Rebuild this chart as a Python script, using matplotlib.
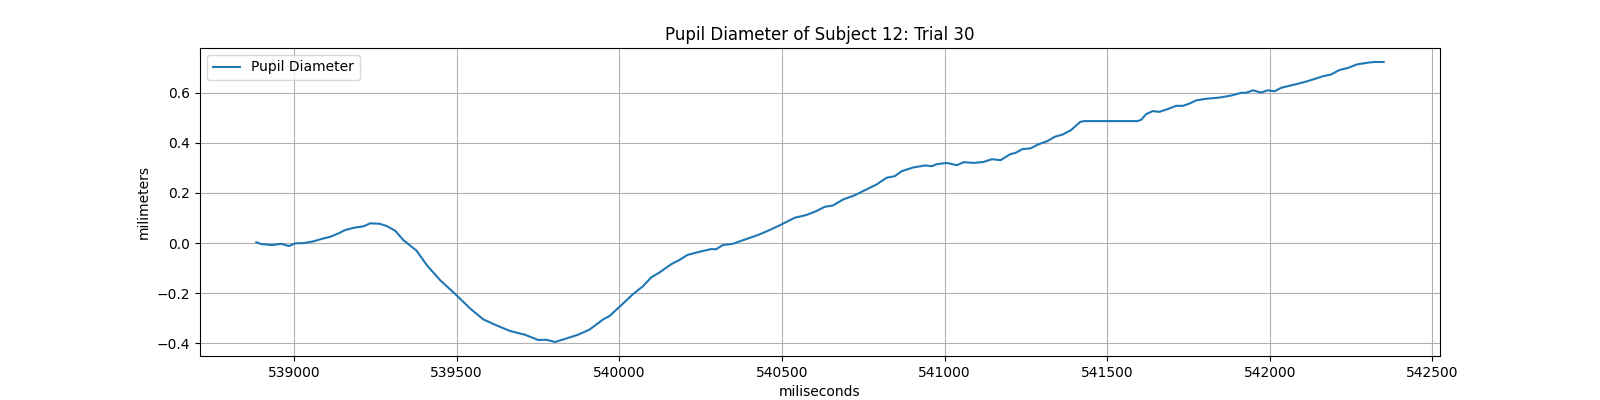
import matplotlib
matplotlib.use('Agg')
import matplotlib.pyplot as plt

# time stamps (ms) and pupil diameter change (mm)
time_ms = [
    538884, 538899, 538933, 538960, 538984, 539004, 539030, 539060, 539086, 539111,
    539137, 539157, 539183, 539214, 539234, 539263, 539285, 539311, 539336, 539377,
    539408, 539449, 539500, 539541, 539582, 539623, 539664, 539710, 539751, 539776,
    539802, 539837, 539873, 539909, 539950, 539970, 540001, 540042, 540073, 540098,
    540124, 540160, 540184, 540210, 540246, 540282, 540297, 540318, 540349, 540390,
    540426, 540457, 540498, 540539, 540575, 540606, 540632, 540657, 540688, 540724,
    540755, 540791, 540822, 540847, 540868, 540904, 540940, 540961, 540976, 541007,
    541038, 541059, 541090, 541120, 541146, 541172, 541202, 541218, 541239, 541264,
    541290, 541316, 541338, 541364, 541389, 541417, 541430, 541594, 541605, 541620,
    541640, 541661, 541686, 541712, 541733, 541753, 541774, 541804, 541845, 541881,
    541912, 541927, 541948, 541973, 541994, 542014, 542035, 542060, 542086, 542112,
    542142, 542163, 542188, 542214, 542239, 542270, 542306, 542321, 542350,
]
diameter_mm = [
    0.003, -0.004, -0.008, -0.003, -0.012, -0.001, 0.000, 0.007, 0.017, 0.025,
    0.039, 0.052, 0.061, 0.067, 0.079, 0.077, 0.068, 0.049, 0.012, -0.031,
    -0.088, -0.148, -0.209, -0.261, -0.305, -0.329, -0.351, -0.366, -0.387, -0.386,
    -0.395, -0.381, -0.366, -0.345, -0.305, -0.291, -0.254, -0.204, -0.172, -0.137,
    -0.117, -0.084, -0.068, -0.047, -0.035, -0.024, -0.025, -0.008, -0.003, 0.016,
    0.032, 0.049, 0.074, 0.101, 0.112, 0.128, 0.145, 0.150, 0.174, 0.191,
    0.211, 0.234, 0.261, 0.267, 0.287, 0.302, 0.310, 0.307, 0.315, 0.320,
    0.311, 0.323, 0.320, 0.324, 0.335, 0.331, 0.355, 0.360, 0.375, 0.378,
    0.395, 0.407, 0.424, 0.434, 0.451, 0.484, 0.487, 0.487, 0.493, 0.515,
    0.527, 0.524, 0.535, 0.548, 0.548, 0.557, 0.570, 0.576, 0.581, 0.589,
    0.600, 0.600, 0.610, 0.601, 0.610, 0.606, 0.620, 0.628, 0.636, 0.645,
    0.657, 0.666, 0.673, 0.691, 0.699, 0.714, 0.721, 0.723, 0.723,
]

subject = 12
trial = 30

fig, ax = plt.subplots(figsize=(16, 4), dpi=100)
ax.plot(time_ms, diameter_mm, label='Pupil Diameter')
ax.set_title(f'Pupil Diameter of Subject {subject}: Trial {trial}')
ax.set_xlabel('miliseconds')
ax.set_ylabel('milimeters')
ax.grid(True)
ax.legend(loc='upper left')

fig.savefig('out.png')
